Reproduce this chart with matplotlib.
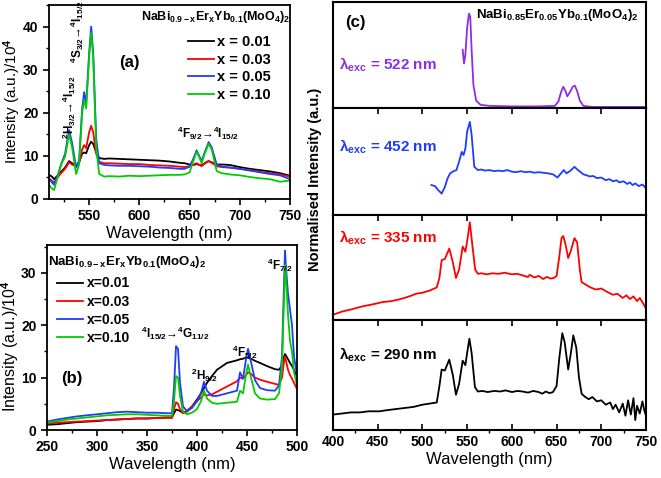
import matplotlib
matplotlib.use("Agg")
import matplotlib.pyplot as plt
from matplotlib.ticker import MultipleLocator

plt.rcParams['font.family'] = ['Liberation Sans', 'DejaVu Sans']
plt.rcParams['font.weight'] = 'bold'
plt.rcParams['mathtext.fontset'] = 'custom'
plt.rcParams['mathtext.rm'] = 'Liberation Sans:bold'
plt.rcParams['mathtext.it'] = 'Liberation Sans:bold'
plt.rcParams['mathtext.bf'] = 'Liberation Sans:bold'
plt.rcParams['mathtext.default'] = 'rm'
plt.rcParams['axes.linewidth'] = 1.3

# ---- panel (a): emission, 510-750 nm ----
wl_a = [510, 513, 515, 518, 522, 526, 530, 533, 537, 540, 543, 545, 547, 550, 552, 554, 557, 560,
        565, 570, 580, 590, 600, 610, 620, 630, 640, 645, 650, 654, 657, 660, 662, 665, 669, 672,
        677, 682, 690, 700, 710, 720, 730, 740, 750]
a_001 = [5.6, 5.2, 4.6, 5.3, 6.3, 7.3, 8.8, 8.3, 7.8, 8.5, 10.5, 10.8, 10.6, 12.5, 13.3, 12.8, 10.8, 9.5,
         9.3, 9.4, 9.3, 9.2, 9.1, 9.0, 8.9, 8.7, 8.4, 8.3, 8.0, 7.9, 8.1, 7.9, 7.8, 8.3, 8.8, 8.5,
         8.0, 8.0, 7.9, 7.4, 7.0, 6.7, 6.4, 6.0, 5.4]
a_003 = [4.8, 4.2, 3.8, 4.8, 6.0, 7.0, 8.5, 8.0, 7.5, 8.5, 11.5, 12.5, 11.8, 15.5, 17.0, 15.5, 10.5, 8.6,
         8.3, 8.3, 8.2, 8.1, 8.1, 7.9, 7.8, 7.7, 7.5, 7.4, 7.6, 8.0, 8.3, 7.9, 7.6, 8.2, 8.8, 8.4,
         7.6, 7.4, 7.3, 7.0, 6.7, 6.3, 6.0, 5.7, 5.2]
a_005 = [4.8, 3.8, 3.3, 5.0, 8.0, 10.5, 16.0, 13.0, 7.3, 9.0, 21.0, 24.8, 22.0, 34.0, 40.0, 34.0, 14.0, 8.3,
         7.9, 7.8, 7.7, 7.7, 7.6, 7.5, 7.3, 7.2, 7.0, 7.0, 7.5, 9.5, 11.3, 9.8, 8.8, 10.8, 13.2, 12.0,
         8.0, 7.5, 7.3, 7.0, 6.6, 6.2, 5.8, 5.5, 4.6]
a_010 = [3.3, 2.4, 2.1, 4.5, 8.0, 9.8, 15.0, 12.0, 5.8, 8.0, 20.0, 23.0, 21.0, 33.0, 38.5, 33.0, 12.0, 5.8,
         5.2, 5.3, 5.2, 5.4, 5.3, 5.4, 5.5, 5.6, 5.6, 5.7, 6.2, 9.0, 11.0, 9.5, 8.3, 10.5, 12.8, 11.5,
         6.5, 6.0, 5.7, 5.5, 5.1, 4.8, 4.6, 4.0, 4.3]

# ---- panel (b): excitation, 250-500 nm ----
wl_b = [250, 260, 270, 280, 290, 300, 310, 320, 330, 340, 350, 360, 370, 375, 377, 379, 381, 383, 386,
        390, 395, 400, 404, 407, 410, 415, 420, 430, 440, 443, 446, 449, 451, 454, 458, 463, 470, 478,
        482, 485, 487, 488, 489, 491, 493, 495, 497, 500]
b_001 = [1.0, 1.1, 1.3, 1.5, 1.6, 1.7, 1.9, 2.0, 2.1, 2.2, 2.2, 2.3, 2.4, 2.4, 3.2, 3.9, 3.8, 3.6, 3.3,
         3.6, 4.5, 5.8, 7.0, 8.0, 9.0, 10.3, 11.5, 12.8, 13.3, 13.5, 13.6, 13.8, 13.8, 13.6, 13.2, 12.8, 12.2, 11.6,
         11.5, 12.3, 14.0, 14.5, 14.2, 13.5, 12.8, 12.2, 11.5, 10.2]
b_003 = [1.2, 1.4, 1.5, 1.6, 1.7, 1.8, 1.9, 2.0, 2.1, 2.2, 2.2, 2.3, 2.3, 2.3, 4.0, 5.3, 5.0, 4.0, 3.2,
         3.5, 4.5, 5.5, 6.2, 6.8, 6.6, 6.8, 7.3, 8.3, 9.3, 10.0, 9.8, 10.5, 11.0, 10.7, 10.0, 9.6, 9.2, 8.8,
         8.6, 10.0, 13.0, 14.0, 13.2, 11.5, 10.5, 9.8, 9.0, 7.8]
b_005 = [1.6, 2.0, 2.3, 2.6, 2.8, 3.0, 3.2, 3.4, 3.5, 3.4, 3.3, 3.3, 3.2, 3.2, 8.0, 16.0, 15.5, 9.0, 4.5,
         3.6, 4.2, 5.5, 7.0, 9.2, 7.5, 6.5, 6.5, 7.0, 7.5, 11.0, 9.8, 13.5, 15.5, 13.0, 9.5, 8.0, 7.6, 7.5,
         8.5, 14.0, 28.0, 34.2, 31.0, 26.0, 23.0, 20.0, 14.0, 10.5]
b_010 = [1.4, 1.7, 2.0, 2.2, 2.4, 2.6, 2.8, 2.9, 3.0, 3.0, 2.9, 2.8, 2.7, 2.7, 5.5, 10.3, 10.0, 6.5, 3.5,
         3.0, 3.3, 4.0, 5.5, 7.5, 6.0, 5.2, 5.0, 5.2, 5.4, 7.5, 7.0, 10.5, 12.5, 10.0, 7.0, 6.0, 5.8, 5.9,
         7.0, 12.0, 25.0, 31.5, 29.0, 22.0, 17.0, 15.0, 11.0, 8.5]

labels_x = ['0.01', '0.03', '0.05', '0.10']
colors_x = ['black', '#ff0000', '#1f3cff', '#00cc00']

# ---- panel (c): normalised emission for several excitation wavelengths ----
wl_522 = [545, 546.5, 548, 550, 552, 553.5, 555, 557, 560, 565, 575, 600, 630, 648, 652, 655, 657.5,
          660, 662, 665, 668, 670.5, 673, 676, 680, 690, 720, 750]
c_522 = [0.55, 0.42, 0.50, 0.76, 0.89, 0.86, 0.55, 0.22, 0.07, 0.03, 0.02, 0.015, 0.015, 0.02, 0.06, 0.15, 0.20,
         0.16, 0.11, 0.15, 0.20, 0.21, 0.16, 0.07, 0.02, 0.01, 0.01, 0.01]
wl_452 = [510, 514, 518, 521.5, 525, 528, 531, 535, 538, 541, 544, 546, 548, 550, 553, 555, 558, 562, 566,
          570, 575, 580, 585, 590, 595, 600, 605, 610, 615, 620, 625, 630, 635, 640, 646, 651, 655, 658, 661,
          665, 670, 674, 680, 684, 687, 691, 695, 700, 705, 709, 713, 717, 720, 725, 729, 732, 735, 738, 742,
          746, 750]
c_452 = [0.28, 0.27, 0.23, 0.20, 0.26, 0.34, 0.39, 0.41, 0.42, 0.50, 0.59, 0.56, 0.62, 0.78, 0.87, 0.75, 0.45, 0.42, 0.425,
         0.415, 0.42, 0.41, 0.415, 0.41, 0.42, 0.405, 0.40, 0.41, 0.40, 0.405, 0.395, 0.40, 0.395, 0.39, 0.38, 0.35, 0.39, 0.42, 0.39,
         0.41, 0.45, 0.42, 0.38, 0.37, 0.36, 0.365, 0.345, 0.35, 0.325, 0.335, 0.315, 0.325, 0.305, 0.315, 0.29, 0.305, 0.28, 0.295, 0.27,
         0.285, 0.25]
wl_335 = [400, 410, 420, 433, 445, 455, 465, 471, 480, 487, 493, 500, 508, 516, 519, 521.5, 525, 530, 534,
          537.5, 541, 545, 548, 550, 553, 556, 559, 562, 566, 572, 578, 585, 592, 600, 606, 612, 618, 620,
          625, 630, 635, 639, 643, 647, 650, 653, 655.5, 657.5, 660, 663, 666, 670, 673, 676, 678, 682, 688,
          694, 700, 706, 713, 718, 724, 728, 732, 736, 740, 743, 746, 750]
c_335 = [0.05, 0.08, 0.10, 0.13, 0.15, 0.17, 0.18, 0.19, 0.21, 0.23, 0.25, 0.26, 0.28, 0.31, 0.40, 0.57, 0.58, 0.68, 0.55,
         0.40, 0.48, 0.70, 0.65, 0.75, 0.93, 0.70, 0.48, 0.44, 0.445, 0.435, 0.445, 0.44, 0.45, 0.435, 0.44, 0.425, 0.41, 0.43,
         0.405, 0.42, 0.39, 0.41, 0.395, 0.40, 0.42, 0.60, 0.78, 0.80, 0.72, 0.59, 0.66, 0.78, 0.74, 0.48, 0.36, 0.34, 0.31,
         0.29, 0.30, 0.27, 0.24, 0.25, 0.21, 0.235, 0.2, 0.225, 0.18, 0.21, 0.17, 0.11]
wl_290 = [400, 410, 420, 430, 440, 452, 460, 470, 480, 490, 500, 508, 516, 519, 521.5, 525, 530, 534, 537.5,
          541, 545, 548, 550, 552.5, 555, 558.7, 562, 567, 573, 580, 587, 593, 600, 606, 612, 618, 624, 630,
          634, 638, 642, 646, 650, 653, 656.4, 659, 663, 666, 668.7, 672, 675, 678, 682, 686, 690, 695, 700,
          705, 710, 713, 716, 720, 724, 727, 730, 733, 736, 738, 740, 743, 746, 748, 750]
c_290 = [0.14, 0.15, 0.16, 0.16, 0.17, 0.17, 0.18, 0.19, 0.20, 0.21, 0.23, 0.24, 0.25, 0.40, 0.55, 0.54, 0.64, 0.50, 0.32,
         0.42, 0.63, 0.59, 0.70, 0.83, 0.70, 0.39, 0.35, 0.355, 0.345, 0.355, 0.35, 0.36, 0.345, 0.355, 0.35, 0.34, 0.355, 0.345,
         0.33, 0.35, 0.335, 0.345, 0.40, 0.65, 0.88, 0.80, 0.55, 0.70, 0.86, 0.75, 0.48, 0.33, 0.30, 0.28, 0.30, 0.26, 0.27,
         0.23, 0.25, 0.19, 0.23, 0.16, 0.24, 0.13, 0.27, 0.14, 0.29, 0.09, 0.22, 0.15, 0.26, 0.18, 0.13]

W, H = 661, 478
fig = plt.figure(figsize=(W / 100, H / 100), dpi=100)


def box(l, t, r, b):
    return [l / W, 1 - b / H, (r - l) / W, (b - t) / H]


formula = r'NaBi$_{0.9-x}$Er$_x$Yb$_{0.1}$(MoO$_4$)$_2$'

# (a)
ax_a = fig.add_axes(box(49, 5, 290, 199))
for ys, lab, col in zip([a_001, a_003, a_005, a_010], labels_x, colors_x):
    ax_a.plot(wl_a, ys, color=col, lw=1.3, label='x = ' + lab)
ax_a.set_xlim(510, 750)
ax_a.set_ylim(0, 45)
ax_a.xaxis.set_major_locator(MultipleLocator(50))
ax_a.xaxis.set_minor_locator(MultipleLocator(25))
ax_a.yaxis.set_major_locator(MultipleLocator(10))
ax_a.yaxis.set_minor_locator(MultipleLocator(5))
ax_a.tick_params(labelsize=10, length=4, width=1.2)
ax_a.tick_params(which='minor', length=2.5, width=1)
ax_a.set_xlabel('Wavelength (nm)', fontsize=12, labelpad=2)
ax_a.set_ylabel(r'Intensity (a.u.)/10$^4$', fontsize=11)
ax_a.yaxis.set_label_coords(-0.108, 0.505)
ax_a.legend(loc='upper left', bbox_to_anchor=(0.575, 0.845), frameon=False, fontsize=10.5,
            handlelength=1.8, handletextpad=0.25, labelspacing=0.25, borderpad=0, borderaxespad=0)
ax_a.text(676, 42.3, formula, fontsize=9, ha='center', va='center')
ax_a.text(590, 31.6, '(a)', fontsize=12, ha='center', va='center')
ax_a.text(538, 38.8, r'$^4$S$_{3/2}$→$^4$I$_{15/2}$', fontsize=8.5, rotation=90, ha='center', va='center')
ax_a.text(530, 21.2, r'$^2$H$_{3/2}$→$^4$I$_{15/2}$', fontsize=8.5, rotation=90, ha='center', va='center')
ax_a.text(668, 15.3, r'$^4$F$_{9/2}$→$^4$I$_{15/2}$', fontsize=8.5, ha='center', va='center')

# (b)
ax_b = fig.add_axes(box(47, 245, 297, 430))
for ys, lab, col in zip([b_001, b_003, b_005, b_010], labels_x, colors_x):
    ax_b.plot(wl_b, ys, color=col, lw=1.3, label='x=' + lab)
ax_b.set_xlim(250, 500)
ax_b.set_ylim(0, 35.3)
ax_b.xaxis.set_major_locator(MultipleLocator(50))
ax_b.xaxis.set_minor_locator(MultipleLocator(25))
ax_b.yaxis.set_major_locator(MultipleLocator(10))
ax_b.yaxis.set_minor_locator(MultipleLocator(5))
ax_b.tick_params(labelsize=10, length=4, width=1.2)
ax_b.tick_params(which='minor', length=2.5, width=1)
ax_b.set_xlabel('Wavelength (nm)', fontsize=12, labelpad=2)
ax_b.set_ylabel(r'Intensity (a.u.)/10$^4$', fontsize=11.5)
ax_b.yaxis.set_label_coords(-0.104, 0.455)
ax_b.legend(loc='upper left', bbox_to_anchor=(0.04, 0.83), frameon=False, fontsize=10,
            handlelength=1.9, handletextpad=0.25, labelspacing=0.3, borderpad=0, borderaxespad=0)
ax_b.text(330, 32, formula, fontsize=9.5, ha='center', va='center')
ax_b.text(275, 9.9, '(b)', fontsize=12, ha='center', va='center')
ax_b.text(378, 18.5, r'$^4$I$_{15/2}$→$^4$G$_{11/2}$', fontsize=8.5, ha='center', va='center')
ax_b.text(407, 10.5, r'$^2$H$_{9/2}$', fontsize=8.5, ha='center', va='center')
ax_b.text(448, 14.9, r'$^4$F$_{5/2}$', fontsize=8.5, ha='center', va='center')
ax_b.text(483, 31.5, r'$^4$F$_{7/2}$', fontsize=8.5, ha='center', va='center')

# (c)
bounds = [(2, 108), (108, 215), (215, 320), (320, 430)]
series_c = [(wl_522, c_522, '#8e2de2', '522'), (wl_452, c_452, '#1f3cff', '452'),
            (wl_335, c_335, '#ff0000', '335'), (wl_290, c_290, 'black', '290')]
text_y = [0.405, 0.64, 0.78, 0.68]
for i, ((t, b), (xs, ys, col, lam)) in enumerate(zip(bounds, series_c)):
    ax = fig.add_axes(box(333, t, 646, b))
    ax.plot(xs, ys, color=col, lw=1.3)
    ax.set_xlim(400, 750)
    ax.set_ylim(0, 1)
    ax.set_yticks([])
    ax.xaxis.set_major_locator(MultipleLocator(50))
    for s in ax.spines.values():
        s.set_linewidth(1.5)
    if i < 3:
        ax.tick_params(axis='x', bottom=False, labelbottom=False)
    else:
        ax.xaxis.set_minor_locator(MultipleLocator(25))
        ax.tick_params(axis='x', labelsize=10, length=4, width=1.2)
        ax.tick_params(axis='x', which='minor', length=2.5, width=1)
        ax.set_xlabel('Wavelength (nm)', fontsize=12, labelpad=2)
    if i > 0:
        ax.tick_params(axis='x', top=True, direction='in', length=4, width=1.2)
    ax.text(0.02, text_y[i], r'λ$_{exc}$ = ' + lam + ' nm', color=col, fontsize=11,
            transform=ax.transAxes, ha='left', va='center')
    if i == 0:
        ax.text(0.07, 0.81, '(c)', fontsize=12, transform=ax.transAxes, ha='center', va='center')
        ax.text(0.715, 0.877, r'NaBi$_{0.85}$Er$_{0.05}$Yb$_{0.1}$(MoO$_4$)$_2$', fontsize=9.5,
                transform=ax.transAxes, ha='center', va='center')

fig.text(315 / W, 1 - 179 / H, 'Normalised Intensity (a.u.)', rotation=90, fontsize=10.5,
         ha='center', va='center')

fig.savefig('out.png', dpi=100)
